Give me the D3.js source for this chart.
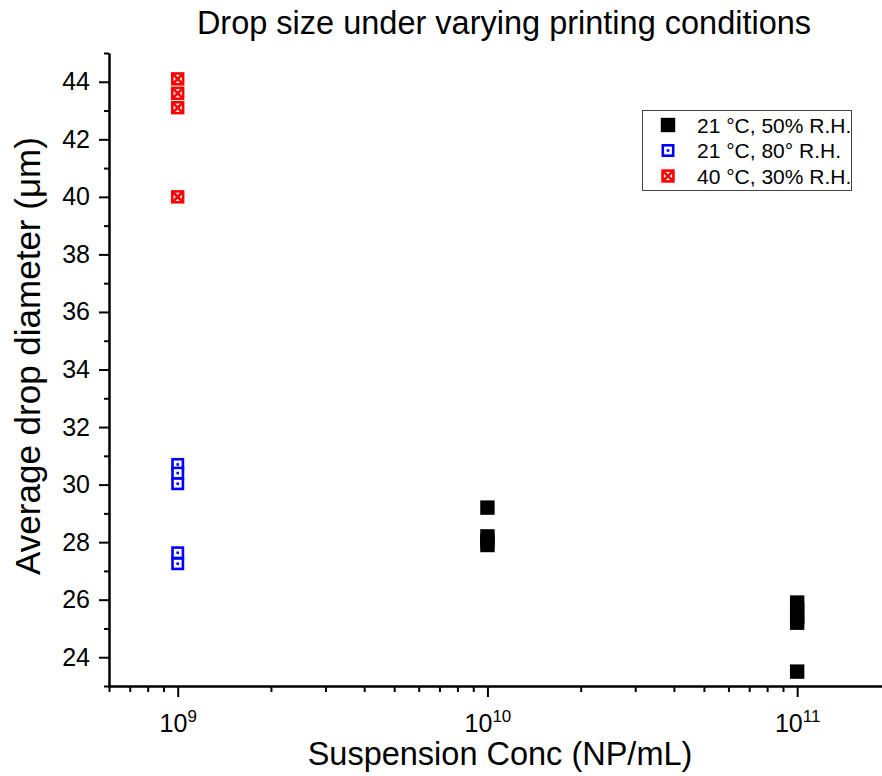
<!DOCTYPE html>
<html>
<head>
<meta charset="utf-8">
<script src="https://cdn.jsdelivr.net/npm/d3@7"></script>
<style>
  body { margin: 0; background: #fff; }
  svg { font-family: "Liberation Sans", Arial, sans-serif; }
</style>
</head>
<body>
<svg id="chart"></svg>
<script>
const width = 882;
const height = 776;

// data
const seriesNames = ['21 °C, 50% R.H.', '21 °C, 80° R.H.', '40 °C, 30% R.H.'];
const blackConc = [1e10, 1e10, 1e10, 1e10, 1e11, 1e11, 1e11, 1e11, 1e11];
const blackDiam = [29.2, 28.2, 28.05, 27.9, 25.9, 25.65, 25.4, 25.2, 23.5];
const blueConc = [1e9, 1e9, 1e9, 1e9, 1e9];
const blueDiam = [30.7, 30.4, 30.03, 27.63, 27.25];
const redConc = [1e9, 1e9, 1e9, 1e9];
const redDiam = [44.1, 43.6, 43.1, 40.0];
const yTicks = [24, 26, 28, 30, 32, 34, 36, 38, 40, 42, 44];
const xTicks = [1e9, 1e10, 1e11];

const svg = d3.select('#chart')
    .attr('width', width)
    .attr('height', height);

const x = d3.scaleLog().domain([6e8, 2e11]).range([109, 890.4]);
const y = d3.scaleLinear().domain([23, 45]).range([686, 53]);

// minor ticks
const yMinor = d3.range(23, 46, 2);
const xMinor = [];
[1e8, 1e9, 1e10, 1e11].forEach(dec => {
    for (let k = 2; k <= 9; k++) {
        const v = dec * k;
        if (v >= 6e8 && v <= 2e11) xMinor.push(v);
    }
});

const yMinorAxis = svg.append('g').attr('transform', 'translate(109,0)')
    .call(d3.axisLeft(y).tickValues(yMinor).tickSize(5).tickSizeOuter(0).tickFormat(''));
const yAxis = svg.append('g').attr('transform', 'translate(109,0)')
    .call(d3.axisLeft(y).tickValues(yTicks).tickSize(10).tickSizeOuter(0).tickPadding(9));

const xMinorAxis = svg.append('g').attr('transform', 'translate(0,686)')
    .call(d3.axisBottom(x).tickValues(xMinor).tickSize(6).tickSizeOuter(0).tickFormat(''));
const xAxis = svg.append('g').attr('transform', 'translate(0,686)')
    .call(d3.axisBottom(x).tickValues(xTicks).tickSize(11).tickSizeOuter(0).tickFormat(''));

svg.selectAll('.domain, .tick line').attr('stroke', '#000').attr('stroke-width', 2);
xMinorAxis.select('.domain').attr('d', 'M108,0.5H882');

yAxis.selectAll('.tick text')
    .attr('font-size', 25)
    .attr('font-family', '"Liberation Sans", Arial, sans-serif')
    .attr('fill', '#000');

// x tick labels as 10^n
xAxis.selectAll('.tick').each(function (d) {
    const t = d3.select(this).append('text')
        .attr('y', 46)
        .attr('fill', '#000')
        .attr('font-size', 25)
        .attr('font-family', '"Liberation Sans", Arial, sans-serif')
        .attr('text-anchor', 'middle');
    t.append('tspan').text('10');
    t.append('tspan').attr('font-size', 17).attr('dy', -10).text(Math.round(Math.log10(d)));
});

// title and labels
svg.append('text')
    .attr('x', 504).attr('y', 34)
    .attr('text-anchor', 'middle')
    .attr('font-size', 32.5)
    .text('Drop size under varying printing conditions');

svg.append('text')
    .attr('x', 500).attr('y', 765)
    .attr('text-anchor', 'middle')
    .attr('font-size', 32.5)
    .text('Suspension Conc (NP/mL)');

svg.append('text')
    .attr('transform', 'translate(40,356) rotate(-90)')
    .attr('text-anchor', 'middle')
    .attr('font-size', 35)
    .text('Average drop diameter (μm)');

// markers
function drawBlack(g, cx, cy) {
    g.append('rect')
        .attr('x', cx - 7.2).attr('y', cy - 7.2)
        .attr('width', 14.4).attr('height', 14.4)
        .attr('fill', '#000');
}
function drawBlue(g, cx, cy) {
    g.append('rect')
        .attr('x', cx - 5.2).attr('y', cy - 5.2)
        .attr('width', 10.4).attr('height', 10.4)
        .attr('fill', '#fff').attr('stroke', '#0000ff').attr('stroke-width', 2.6);
    g.append('rect')
        .attr('x', cx - 1.3).attr('y', cy - 1.3)
        .attr('width', 2.6).attr('height', 2.6)
        .attr('fill', '#0000ff');
}
function drawRed(g, cx, cy) {
    const s = 5.4;
    g.append('rect')
        .attr('x', cx - s).attr('y', cy - s)
        .attr('width', 2 * s).attr('height', 2 * s)
        .attr('fill', '#fff').attr('stroke', '#ff0000').attr('stroke-width', 2.6);
    g.append('path')
        .attr('d', `M${cx - s},${cy - s}L${cx + s},${cy + s}M${cx + s},${cy - s}L${cx - s},${cy + s}`)
        .attr('stroke', '#ff0000').attr('stroke-width', 2.6);
}

const marks = svg.append('g');
blackConc.forEach((c, i) => drawBlack(marks, x(c), y(blackDiam[i])));
blueConc.forEach((c, i) => drawBlue(marks, x(c), y(blueDiam[i])));
redConc.forEach((c, i) => drawRed(marks, x(c), y(redDiam[i])));

// legend
const legend = svg.append('g');
legend.append('rect')
    .attr('x', 642.5).attr('y', 110.5)
    .attr('width', 209).attr('height', 80)
    .attr('fill', '#fff').attr('stroke', '#444').attr('stroke-width', 1);
const drawers = [drawBlack, drawBlue, drawRed];
seriesNames.forEach((name, i) => {
    const ly = 125 + i * 25.5;
    drawers[i](legend, 668, ly);
    legend.append('text')
        .attr('x', 697).attr('y', ly + 7.5)
        .attr('font-size', 21)
        .text(name);
});
</script>
</body>
</html>
